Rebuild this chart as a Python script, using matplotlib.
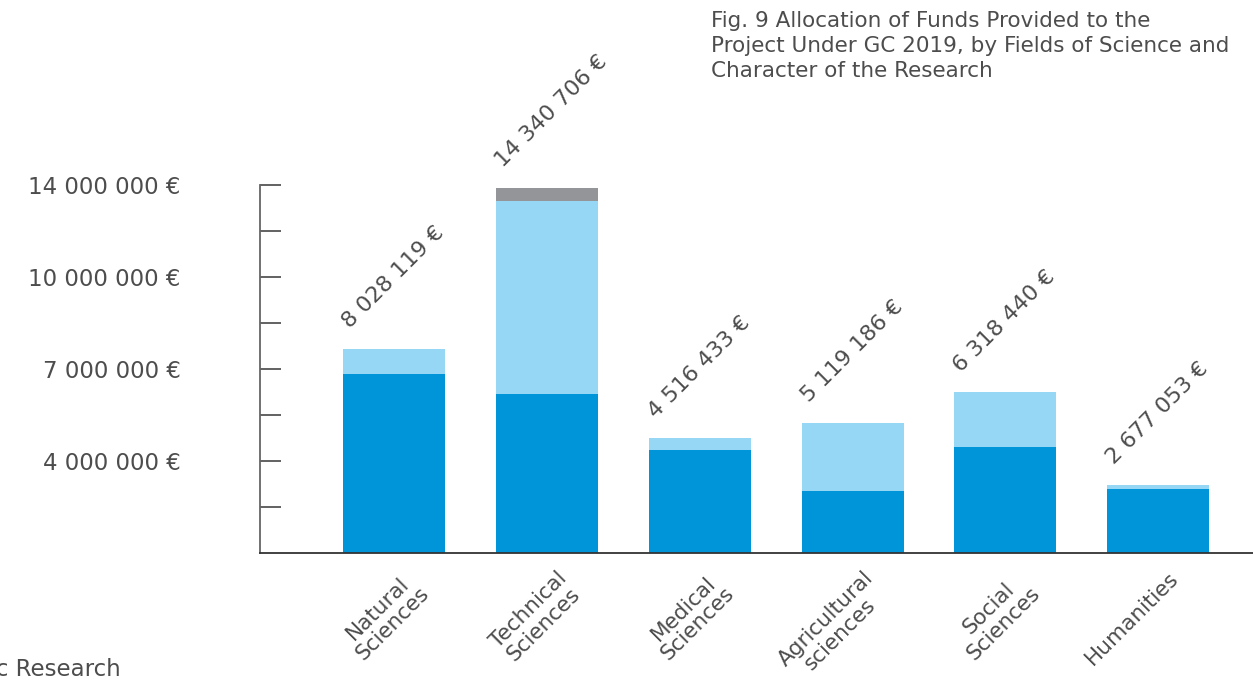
import numpy as np
import matplotlib
matplotlib.use("Agg")
import matplotlib.pyplot as plt
from matplotlib.transforms import ScaledTranslation

# data (EUR)
fields = ["Natural\nSciences", "Technical\nSciences", "Medical\nSciences",
          "Agricultural\nsciences", "Social\nSciences", "Humanities"]
basic = [7030000, 6250000, 4050000, 2440000, 4170000, 2520000]
totals = [8028119, 14340706, 4516433, 5119186, 6318440, 2677053]
development = [0, 510000, 0, 0, 0, 0]
total_labels = ["8 028 119 €", "14 340 706 €", "4 516 433 €",
                "5 119 186 €", "6 318 440 €", "2 677 053 €"]
# y labels as printed (only every second tick is labelled)
y_tick_labels = ["", "4 000 000 €", "", "7 000 000 €", "", "10 000 000 €", "", "14 000 000 €"]
tick_step = 1807000

applied = [t - b - d for t, b, d in zip(totals, basic, development)]

c_basic = "#0095d8"
c_applied = "#95d7f5"
c_dev = "#939598"
c_text = "#4d4d4d"

fig = plt.figure(figsize=(12.53, 6.82), dpi=100)
ax = fig.add_axes([260 / 1253, 129 / 682, 993 / 1253, 368 / 682])

x = np.arange(len(fields))
w = 0.667
ax.bar(x, basic, w, color=c_basic, label="Basic Research")
ax.bar(x, applied, w, bottom=basic, color=c_applied, label="Applied Research")
ax.bar(x, development, w, bottom=np.array(basic) + np.array(applied), color=c_dev,
       label="Experimental Development")

ax.set_xlim(-0.877, 5.62)
ax.set_ylim(0, tick_step * 8)

# y axis
ax.set_yticks(np.arange(1, 9) * tick_step)
ax.set_yticklabels(y_tick_labels, fontsize=16.5, color=c_text)
ax.tick_params(axis="y", direction="in", length=15, width=1.3, color="#555555", pad=57)
ax.set_xticks([])
for s in ["top", "right"]:
    ax.spines[s].set_visible(False)
ax.spines["left"].set_color("#666666")
ax.spines["left"].set_linewidth(1.3)
ax.spines["bottom"].set_color("#333333")
ax.spines["bottom"].set_linewidth(1.3)

# category labels below the axis
for i, name in enumerate(fields):
    off = ScaledTranslation(10 / 100, -15 / 100, fig.dpi_scale_trans)
    ax.text(i, 0, name, transform=ax.transData + off, rotation=45,
            rotation_mode="anchor", ha="right", va="top", multialignment="center",
            fontsize=15.5, color=c_text, linespacing=1.05)

# totals above bars
for i, (t, lab) in enumerate(zip(totals, total_labels)):
    ax.annotate(lab, xy=(i - w / 2, t), xytext=(5, 14), textcoords="offset points",
                rotation=45, rotation_mode="anchor", ha="left", va="baseline",
                fontsize=16, color=c_text, annotation_clip=False)

fig.text(711 / 1253, 1 - 11 / 682,
         "Fig. 9 Allocation of Funds Provided to the\n"
         "Project Under GC 2019, by Fields of Science and\n"
         "Character of the Research",
         ha="left", va="top", fontsize=15.5, color=c_text, linespacing=1.3)

# legend entry, cut off at the left edge like the source
fig.text(121 / 1253, 12 / 682, "Basic Research", ha="right", va="center",
         fontsize=16.5, color=c_text)

fig.savefig("out.png", dpi=100)
